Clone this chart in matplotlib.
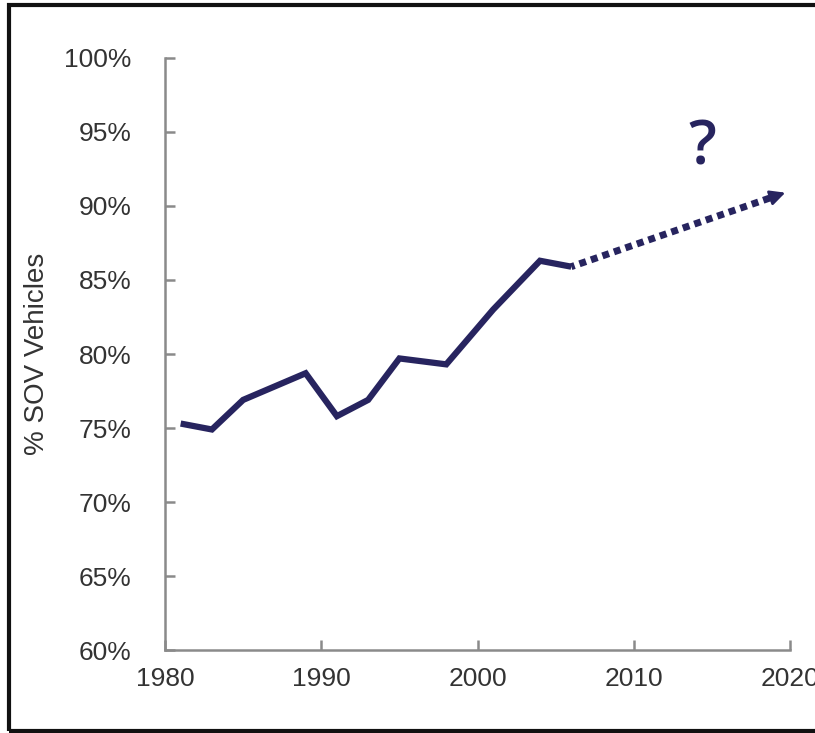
import matplotlib.pyplot as plt
from matplotlib.patches import Rectangle
from matplotlib.ticker import FuncFormatter

plt.rcParams['font.family'] = ['Liberation Sans', 'DejaVu Sans']

years = [1981, 1983, 1985, 1987, 1989, 1991, 1993, 1995, 1998, 2001, 2004, 2006]
sov_share = [75.3, 74.9, 76.9, 77.8, 78.7, 75.8, 76.9, 79.7, 79.3, 83.0, 86.3, 85.9]

trend_years = [2006, 2019.7]
trend_values = [85.9, 90.9]

x_ticks = [1980, 1990, 2000, 2010, 2020]
y_ticks = [60, 65, 70, 75, 80, 85, 90, 95, 100]

navy = '#27245f'

fig = plt.figure(figsize=(8.15, 7.33), dpi=100)
ax = fig.add_axes([0.2025, 0.1132, 0.7668, 0.8077])

ax.plot(years, sov_share, color=navy, lw=4.5, solid_joinstyle='miter', solid_capstyle='butt')

# dotted trend with arrow head
tip_x, tip_y = trend_years[1], trend_values[1]
frac = 0.93
mid_x = trend_years[0] + frac * (tip_x - trend_years[0])
mid_y = trend_values[0] + frac * (tip_y - trend_values[0])
ax.plot([trend_years[0], mid_x], [trend_values[0], mid_y], color=navy, lw=5,
        linestyle=(0.5, (1.0, 0.75)), dash_capstyle='butt')
ax.annotate('', xy=(tip_x, tip_y), xytext=(mid_x, mid_y),
            arrowprops=dict(arrowstyle='-|>,head_length=0.9,head_width=0.45',
                            color=navy, lw=2, shrinkA=0, shrinkB=0))
ax.text(2014.4, 93.9, '?', color=navy, fontsize=44, ha='center', va='center',
        fontweight='semibold', family=['Open Sans', 'DejaVu Sans'])

ax.set_xlim(1980, 2020)
ax.set_ylim(60, 100)
ax.set_xticks(x_ticks)
ax.set_yticks(y_ticks)
ax.yaxis.set_major_formatter(FuncFormatter(lambda v, p: f'{v:.0f}%'))

for side in ['top', 'right']:
    ax.spines[side].set_visible(False)
for side in ['left', 'bottom']:
    ax.spines[side].set_color('#8a8a8a')
    ax.spines[side].set_linewidth(1.8)

ax.tick_params(axis='both', direction='in', length=7, width=1.8, color='#8a8a8a',
               labelcolor='#333333', labelsize=19)
ax.tick_params(axis='y', pad=24)
ax.tick_params(axis='x', pad=12)

ax.set_ylabel('% SOV Vehicles', fontsize=20, color='#333333', labelpad=10)

# outer frame
fig.patches.append(Rectangle((0.011, 0.003), 1.2, 0.99, transform=fig.transFigure,
                             fill=False, edgecolor='#111111', lw=3))

plt.savefig('out.png', dpi=100)
